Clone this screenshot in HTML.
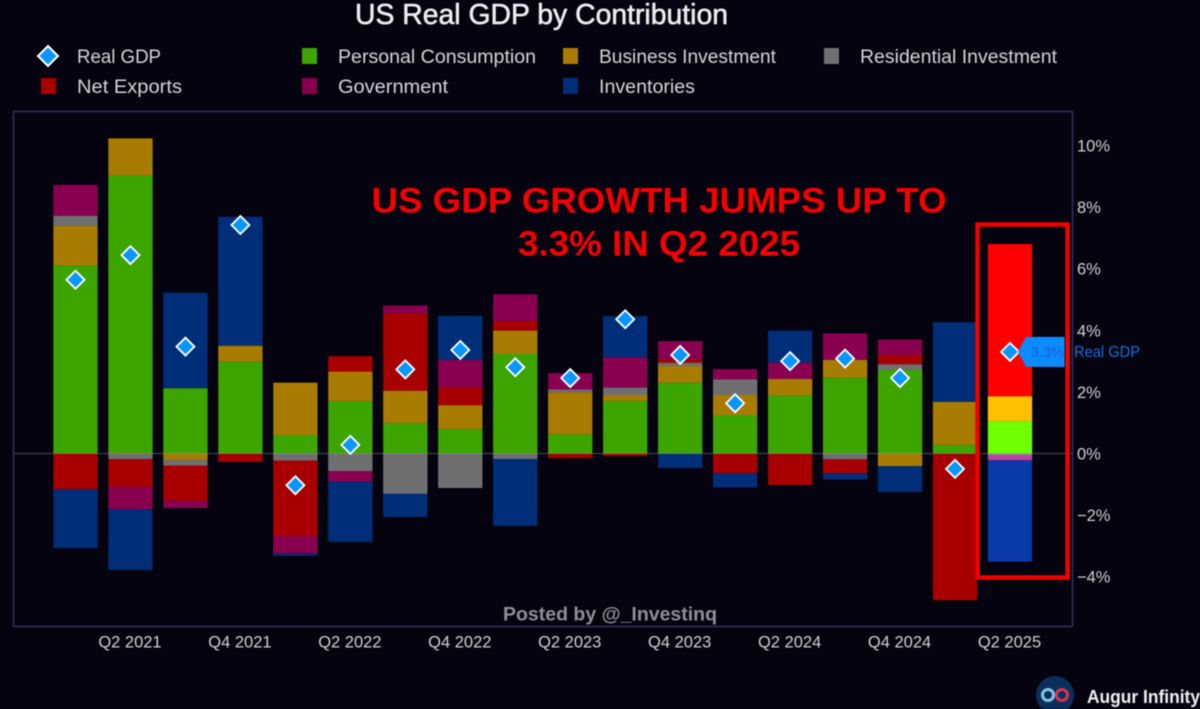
<!DOCTYPE html>
<html lang="en">
<head>
<meta charset="utf-8">
<title>US Real GDP by Contribution</title>
<style>
html,body{margin:0;padding:0;background:#04030f;}
body{width:1200px;height:709px;overflow:hidden;}
svg{display:block;font-family:"Liberation Sans",sans-serif;filter:blur(0.45px);}
.leg{font-size:19px;fill:#d4d4d8;}
.tick{font-size:16.5px;fill:#cfcfd4;}
</style>
</head>
<body>
<svg id="chart" width="1200" height="709" viewBox="0 0 1200 709" xmlns="http://www.w3.org/2000/svg">
  <rect x="0" y="0" width="1200" height="709" fill="#04030f"/>
  <text x="355" y="24" font-size="29" font-weight="400" fill="#ececf0" stroke="#ececf0" stroke-width="0.6" textLength="373" lengthAdjust="spacingAndGlyphs">US Real GDP by Contribution</text>

  <g>
    <g>
      <polygon points="48,46 58,56 48,66 38,56" fill="#0a96ff" stroke="#ffffff" stroke-width="2"/>
      <text class="leg" x="77" y="63" textLength="84" lengthAdjust="spacingAndGlyphs">Real GDP</text>
    </g>
    <g>
      <rect x="302" y="48" width="15" height="16" fill="#3ca500"/>
      <text class="leg" x="338" y="63" textLength="198" lengthAdjust="spacingAndGlyphs">Personal Consumption</text>
    </g>
    <g>
      <rect x="563" y="48" width="15" height="16" fill="#a87c00"/>
      <text class="leg" x="599" y="63" textLength="177" lengthAdjust="spacingAndGlyphs">Business Investment</text>
    </g>
    <g>
      <rect x="824" y="48" width="15" height="16" fill="#6f6f72"/>
      <text class="leg" x="860" y="63" textLength="197" lengthAdjust="spacingAndGlyphs">Residential Investment</text>
    </g>
    <g>
      <rect x="41" y="78" width="15" height="16" fill="#a80000"/>
      <text class="leg" x="77" y="93" textLength="105" lengthAdjust="spacingAndGlyphs">Net Exports</text>
    </g>
    <g>
      <rect x="302" y="78" width="15" height="16" fill="#8a0050"/>
      <text class="leg" x="338" y="93" textLength="110" lengthAdjust="spacingAndGlyphs">Government</text>
    </g>
    <g>
      <rect x="563" y="78" width="15" height="16" fill="#002e78"/>
      <text class="leg" x="599" y="93" textLength="96" lengthAdjust="spacingAndGlyphs">Inventories</text>
    </g>
  </g>

  <rect x="13.5" y="111.5" width="1059" height="515" fill="none" stroke="#36315c" stroke-width="1.5"/>
  <g id="bars"></g>
  <line id="zero" x1="14" x2="1072" stroke="#7f9a9a" stroke-width="1" stroke-opacity="0.5"/>
  <g id="yticks"></g>
  <g id="xticks"></g>
  <rect x="977.5" y="224.5" width="90" height="353" fill="none" stroke="#f00000" stroke-width="4.5"/>
  <g id="markers"></g>
  <g id="callout"></g>

  <text x="659" y="212.5" text-anchor="middle" font-size="35.5" font-weight="700" fill="#f40000" textLength="575" lengthAdjust="spacingAndGlyphs">US GDP GROWTH JUMPS UP TO</text>
  <text x="659" y="255.5" text-anchor="middle" font-size="35.5" font-weight="700" fill="#f40000" textLength="282" lengthAdjust="spacingAndGlyphs">3.3% IN Q2 2025</text>
  <text x="503" y="620.5" font-size="19" font-weight="700" fill="#8f8f96" textLength="214" lengthAdjust="spacingAndGlyphs">Posted by @_Investinq</text>

  <g>
    <circle cx="1055" cy="695" r="19" fill="#0a2f5c"/>
    <circle cx="1048" cy="695" r="5.5" fill="none" stroke="#7fc8e8" stroke-width="3"/>
    <circle cx="1062" cy="695" r="5.5" fill="none" stroke="#d8344a" stroke-width="3"/>
    <text x="1087" y="703" font-size="18" font-weight="700" fill="#f0f0f2" textLength="113" lengthAdjust="spacingAndGlyphs">Augur Infinity</text>
  </g>
</svg>
<script>
const categories = ["Q1 2021","Q2 2021","Q3 2021","Q4 2021","Q1 2022","Q2 2022","Q3 2022","Q4 2022","Q1 2023","Q2 2023","Q3 2023","Q4 2023","Q1 2024","Q2 2024","Q3 2024","Q4 2024","Q1 2025","Q2 2025"];
const consumption = [6.10,9.03,2.12,2.98,0.60,1.70,0.98,0.80,3.23,0.62,1.71,2.30,1.25,1.88,2.46,2.71,0.28,1.05];
const business = [1.29,1.20,-0.21,0.52,1.70,0.96,1.06,0.77,0.76,1.37,0.19,0.54,0.65,0.54,0.58,-0.41,1.40,0.81];
const residential = [0.33,-0.18,-0.18,0,-0.23,-0.57,-1.31,-1.12,-0.18,0.09,0.24,0.11,0.51,0,-0.19,0.19,0,-0.05];
const netExports = [-1.16,-0.90,-1.14,-0.27,-2.45,0.50,2.51,0.58,0.32,-0.15,-0.08,0.11,-0.64,-1.02,-0.45,0.30,-4.76,4.94];
const government = [1.00,-0.73,-0.24,0,-0.56,-0.34,0.25,0.89,0.86,0.53,0.98,0.59,0.33,0.53,0.86,0.50,0,-0.17];
const inventories = [-1.91,-1.97,3.10,4.19,-0.08,-1.96,-0.75,1.43,-2.17,0,1.34,-0.47,-0.46,1.04,-0.20,-0.84,2.58,-3.29];
const gdp = [5.64,6.44,3.47,7.42,-1.03,0.28,2.73,3.36,2.80,2.45,4.36,3.20,1.63,3.00,3.08,2.45,-0.50,3.30];
const yTicks = [10,8,6,4,2,0,-2,-4];

const NS = "http://www.w3.org/2000/svg";
const stackOrder = [
  {key:"consumption", values:consumption, color:"#3ca500", bright:"#70ff00"},
  {key:"business", values:business, color:"#a87c00", bright:"#ffc000"},
  {key:"residential", values:residential, color:"#6f6f72", bright:"#8f8f90"},
  {key:"net-exports", values:netExports, color:"#a80000", bright:"#ff0000"},
  {key:"government", values:government, color:"#8a0050", bright:"#c040a0"},
  {key:"inventories", values:inventories, color:"#002e78", bright:"#0a3aa8"}
];
function xScale(i){ return 75.5 + 54.97 * i; }
function yScale(v){ return 453.5 - 30.8 * v; }
const barWidth = 44.3;

function make(tag, attrs, parent){
  const el = document.createElementNS(NS, tag);
  for (const k in attrs) el.setAttribute(k, attrs[k]);
  parent.appendChild(el);
  return el;
}

const barsG = document.getElementById("bars");
categories.forEach(function(cat, i){
  let pos = 0, neg = 0;
  const highlighted = i === categories.length - 1;
  stackOrder.forEach(function(s){
    const v = s.values[i];
    if (!v) return;
    let from, to;
    if (v > 0) { from = pos; to = pos + v; pos = to; }
    else { from = neg; to = neg + v; neg = to; }
    const top = Math.min(yScale(from), yScale(to));
    const h = Math.abs(yScale(from) - yScale(to));
    const r = make("rect", {x: xScale(i) - barWidth / 2, y: top, width: barWidth, height: h, fill: highlighted ? s.bright : s.color}, barsG);
    
    
  });
});

const zero = document.getElementById("zero");
zero.setAttribute("y1", yScale(0));
zero.setAttribute("y2", yScale(0));

const yG = document.getElementById("yticks");
yTicks.forEach(function(t){
  const label = make("text", {class: "tick", x: 1077, y: yScale(t) + 6}, yG);
  label.textContent = (t < 0 ? "\u2212" + Math.abs(t) : t) + "%";
  
  
});

const xG = document.getElementById("xticks");
categories.forEach(function(cat, i){
  if (i % 2 === 0) return;
  const label = make("text", {class: "tick", x: xScale(i) - 0.5, y: 647.5, "text-anchor": "middle"}, xG);
  label.textContent = cat;
  
  
});

const mG = document.getElementById("markers");
gdp.forEach(function(v, i){
  const cx = xScale(i), cy = yScale(v), r = 9;
  const pts = [cx, cy - r, cx + r, cy, cx, cy + r, cx - r, cy].join(" ");
  const d = make("polygon", {points: pts, fill: "#0a96ff", stroke: "#ffffff", "stroke-width": 1.8}, mG);
  
  
});

const cG = document.getElementById("callout");
const lastValue = gdp[gdp.length - 1];
const cy = yScale(lastValue);
const box = make("polygon", {points: [1018, cy, 1026, cy - 15, 1064.5, cy - 15, 1064.5, cy + 15, 1026, cy + 15].join(" "), fill: "#0a8cff"}, cG);


const valueLabel = make("text", {x: 1031, y: cy + 5, "font-size": 15, fill: "#1f5fd0", textLength: 33, lengthAdjust: "spacingAndGlyphs"}, cG);
valueLabel.textContent = lastValue.toFixed(1) + "%";


const nameLabel = make("text", {x: 1074, y: cy + 5, "font-size": 16, fill: "#0f6fe0", textLength: 66, lengthAdjust: "spacingAndGlyphs"}, cG);
nameLabel.textContent = "Real GDP";


</script>
</body>
</html>
